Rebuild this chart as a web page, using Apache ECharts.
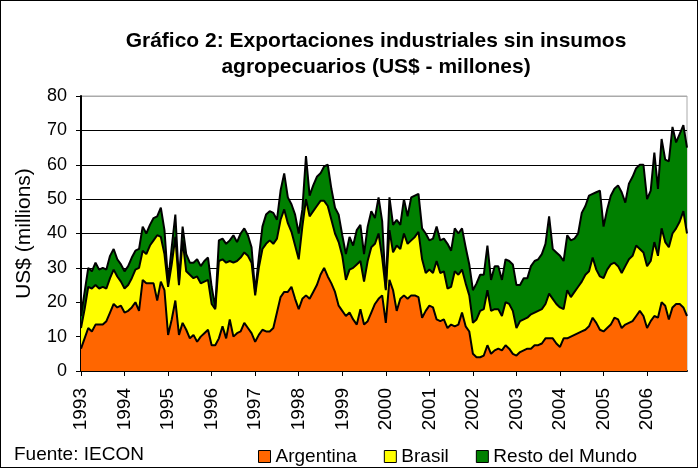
<!DOCTYPE html>
<html>
<head>
<meta charset="utf-8">
<script src="https://cdn.jsdelivr.net/npm/echarts@6/dist/echarts.min.js"></script>
<style>
  html, body { margin: 0; padding: 0; background: #fff; }
  #chart { width: 698px; height: 468px; box-sizing: border-box; border: 1px solid #000; }
</style>
</head>
<body>
<div id="chart"></div>
<script>
// years shown on the axis, one category per month
var years = [1993, 1994, 1995, 1996, 1997, 1998, 1999, 2000, 2001, 2002, 2003, 2004, 2005, 2006];
var months = ['01', '02', '03', '04', '05', '06', '07', '08', '09', '10', '11', '12'];

// US$ millones, monthly
var argentina = [
    6.5, 9.5, 12.5, 11.5, 13.5, 13.5, 13.5, 14.5, 17, 19.5, 18.5, 19,       // 1993
    17, 17.5, 18.5, 20, 17.5, 26.5, 25.5, 25.5, 25.5, 20.5, 26, 23.5,       // 1994
    10.5, 15, 20.5, 10.5, 14, 12, 9.5, 10.5, 8.5, 10, 11, 12,               // 1995
    7.5, 7.5, 9.5, 13, 9.5, 15, 10, 11, 11.5, 14, 12.5, 11,                 // 1996
    8.5, 10.5, 12, 11.5, 11.5, 12.5, 17, 21.5, 23, 23, 24.5, 21,            // 1997
    18, 21, 22, 21, 23, 25, 28, 30, 27.5, 25.5, 23, 19,                     // 1998
    17.5, 16, 17, 15, 13.5, 18, 13.5, 14.5, 17, 19.5, 21, 22,               // 1999
    14, 26.5, 23.5, 17.5, 21, 22, 21, 22, 22, 21.5, 15.5, 17.5,             // 2000
    19, 18.5, 15, 14.5, 15, 12.5, 13.5, 13, 13.5, 17, 13, 11.5,             // 2001
    5, 4, 4, 4.5, 7.5, 5, 6, 6.5, 6, 7.5, 6.5, 5,                           // 2002
    4.5, 5.5, 6, 6.5, 6.5, 7.5, 7.5, 8, 9.5, 9.5, 9.5, 8,                   // 2003
    7, 9.5, 9.5, 10, 10.5, 11, 11.5, 12, 13, 15.5, 14, 12,                  // 2004
    11.5, 12.5, 13.5, 15.5, 15, 12.5, 13.5, 14, 14.5, 16, 17.5, 16,         // 2005
    12.5, 14.5, 16, 15.5, 20, 19, 15, 18.5, 19.5, 19.5, 18.5, 16            // 2006
];
var brasil = [
    6, 8.5, 12, 12.5, 11.5, 10.5, 11, 9.5, 10, 10, 9, 7,
    7, 7.5, 8.5, 9.5, 12.5, 8.5, 8.5, 11, 12.5, 19, 13, 10.5,
    14, 16, 18.5, 14.5, 24, 17, 18.5, 16.5, 19, 15.5, 15, 14.5,
    12, 10.5, 22.5, 19.5, 22, 17, 21.5, 21, 21.5, 20.5, 21, 20.5,
    13.5, 19.5, 23.5, 25.5, 26.5, 24.5, 21.5, 22.5, 24, 20, 16, 15.5,
    14.5, 21, 28, 24, 23.5, 23, 21.5, 19.5, 20.5, 18.5, 17, 18.5,
    16, 10.5, 12.5, 15, 17.5, 14, 12.5, 17.5, 19, 17.5, 19, 11,
    9.5, 14.5, 11, 19, 14.5, 18, 16, 16, 17, 19, 17, 11,
    10.5, 10, 17, 14, 14, 11.5, 11, 16, 14.5, 12.5, 12.5, 10.5,
    9, 11, 13.5, 13.5, 16, 12.5, 12, 11.5, 10, 12.5, 13, 12.5,
    8, 9, 9, 9, 10, 9.5, 10, 10, 10, 13, 11.5, 11.5,
    11.5, 8.5, 14, 11.5, 12.5, 13.5, 14.5, 16, 16, 17.5, 15.5, 15.5,
    15.5, 17, 17.5, 16, 15.5, 16, 17, 18.5, 19, 20.5, 18, 18.5,
    18, 17.5, 21.5, 18, 21.5, 18.5, 21, 21.5, 22, 24, 28, 24
];
var resto = [
    3.5, 5, 5.5, 5, 6.5, 5.5, 5.5, 5.5, 6.5, 6, 5, 5,
    5, 5.5, 6, 5.5, 5.5, 7, 6, 6, 6.5, 5.5, 8.5, 7,
    1.5, 5, 6.5, 1, 4, 5, 3.5, 4.5, 5, 5, 6, 6.5,
    5, 0.5, 6, 6, 5.5, 6, 8, 5.5, 7, 7, 6, 4.5,
    1, 3, 6.5, 8.5, 8.5, 9, 5.5, 8.5, 10.5, 7.5, 8, 9,
    7.5, 5, 12.5, 6, 7.5, 8.5, 8, 10, 12, 9, 7.5, 8,
    6, 7.5, 9.5, 6.5, 10, 10.5, 8, 10, 10.5, 7.5, 10.5, 10.5,
    0.5, 9.5, 8, 7.5, 7, 10, 8, 12.5, 12, 11, 9, 11.5,
    8.5, 10, 10, 9.5, 9.5, 13, 10.5, 12.5, 12, 12, 10.5, 9,
    9.5, 10.5, 10.5, 10, 13, 9, 12.5, 12.5, 10.5, 12.5, 12.5, 13.5,
    12.5, 10.5, 12, 11.5, 14, 15, 15, 16, 17.5, 22.5, 14.5, 15,
    15, 14, 16, 16.5, 15.5, 15.5, 20, 20, 22, 18.5, 22.5, 25,
    15, 17.5, 20, 21.5, 23.5, 23.5, 18.5, 22, 23, 22.5, 24.5, 25.5,
    19.5, 20.5, 26, 19.5, 26, 24, 25, 31, 25, 25.5, 25, 25
];

var categories = [];
for (var i = 0; i < years.length; i++) {
    for (var j = 0; j < months.length; j++) {
        categories.push(years[i] + '-' + months[j]);
    }
}

var font = "'Liberation Sans', Arial, sans-serif";
var isJan = function (idx) { return idx % 12 === 0; };

function areaSeries(name, data, fill) {
    return {
        name: name,
        type: 'line',
        stack: 'total',
        data: data,
        symbol: 'none',
        smooth: false,
        lineStyle: { color: '#000', width: 2 },
        itemStyle: { color: fill },
        areaStyle: { color: fill, opacity: 1 }
    };
}

var chart = echarts.init(document.getElementById('chart'));
chart.setOption({
    animation: false,
    textStyle: { fontFamily: font },
    title: {
        text: 'Gráfico 2: Exportaciones industriales sin insumos\nagropecuarios (US$ - millones)',
        left: 370,
        top: 22,
        textAlign: 'center',
        textStyle: { fontSize: 21, fontWeight: 'bold', color: '#000', lineHeight: 26, fontFamily: font }
    },
    legend: {
        data: ['Argentina', 'Brasil', 'Resto del Mundo'],
        left: 252,
        top: 441,
        icon: 'rect',
        itemWidth: 12,
        itemHeight: 12,
        itemGap: 27,
        itemStyle: { borderColor: '#000', borderWidth: 1 },
        textStyle: { fontSize: 19, color: '#000', fontFamily: font }
    },
    graphic: [{
        type: 'text',
        left: 13,
        top: 444,
        style: { text: 'Fuente: IECON', font: '19px ' + font, fill: '#000' }
    }],
    grid: {
        left: 80,
        right: 10,
        top: 95,
        bottom: 96,
        show: true,
        borderColor: '#aaa',
        borderWidth: 1
    },
    xAxis: {
        type: 'category',
        data: categories,
        boundaryGap: false,
        axisLine: { lineStyle: { color: '#000', width: 2 } },
        axisTick: { interval: isJan, length: 5, lineStyle: { color: '#000' } },
        axisLabel: {
            interval: isJan,
            rotate: 90,
            margin: 17,
            fontSize: 19,
            color: '#000',
            formatter: function (v) { return v.slice(0, 4); }
        },
        splitLine: { show: false }
    },
    yAxis: {
        type: 'value',
        min: 0,
        max: 80,
        interval: 10,
        name: 'US$ (millions)',
        nameLocation: 'middle',
        nameGap: 46,
        nameTextStyle: { fontSize: 21, color: '#000' },
        axisLine: { show: true, lineStyle: { color: '#000', width: 2 } },
        axisTick: { show: true, length: 5, lineStyle: { color: '#000' } },
        axisLabel: { fontSize: 18, color: '#000', margin: 14 },
        splitLine: {
            lineStyle: { color: ['#000', '#000', '#000', '#000', '#000', '#000', '#000', '#000', '#aaa'], width: 1 }
        }
    },
    series: [
        areaSeries('Argentina', argentina, '#ff6600'),
        areaSeries('Brasil', brasil, '#ffff00'),
        areaSeries('Resto del Mundo', resto, '#008000')
    ]
});
</script>
</body>
</html>
